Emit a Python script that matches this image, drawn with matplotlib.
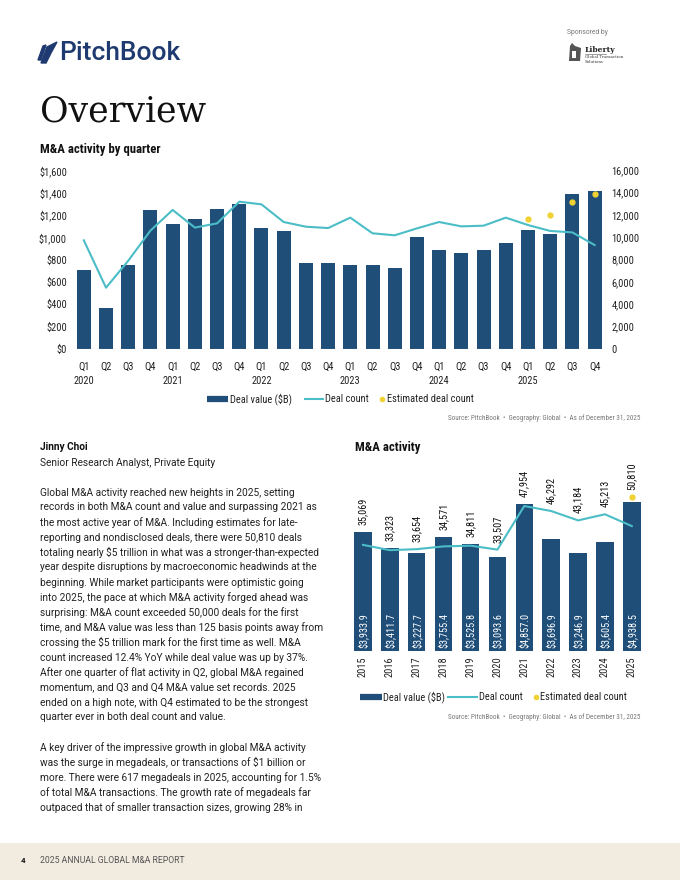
import numpy as np
import matplotlib
matplotlib.use('Agg')
import matplotlib.pyplot as plt
from matplotlib.lines import Line2D
from matplotlib.patches import Polygon, Rectangle
from matplotlib.ticker import FuncFormatter

plt.rcParams['text.parse_math'] = False

NAVY = '#1F4E79'
TEAL = '#4BBDC6'
YELLOW = '#F0D232'
COND = ['Roboto Condensed', 'Liberation Sans Narrow', 'Roboto', 'DejaVu Sans']
BODY = ['Roboto', 'DejaVu Sans']

# quarterly data
quarters = ['Q1', 'Q2', 'Q3', 'Q4'] * 6
q_years = ['2020', '2021', '2022', '2023', '2024', '2025']
q_value = [710, 367, 752, 1244, 1119, 1164, 1253, 1298, 1083, 1056, 770, 770,
           752, 752, 725, 1003, 886, 860, 886, 949, 1065, 1030, 1388, 1415]
q_count = [9730, 5490, 7900, 10600, 12450, 10870, 11250, 13190, 12950, 11370, 10950, 10830,
           11760, 10360, 10180, 10800, 11370, 10980, 11040, 11760, 11100, 10570, 10440, 9310]
q_est = [11610, 11970, 13130, 13900]   # Q1-Q4 2025

# annual data
a_years = ['2015', '2016', '2017', '2018', '2019', '2020', '2021', '2022', '2023', '2024', '2025']
a_value = [3933.9, 3411.7, 3227.7, 3755.4, 3525.8, 3093.6, 4857.0, 3696.9, 3246.9, 3605.4, 4938.5]
a_count = [35069, 33323, 33654, 34571, 34811, 33507, 47954, 46292, 43184, 45213, 41300]
a_label = [35069, 33323, 33654, 34571, 34811, 33507, 47954, 46292, 43184, 45213, 50810]
a_est = [50810]   # 2025

legend_names = ['Deal value ($B)', 'Deal count', 'Estimated deal count']
source = 'Source: PitchBook  \u2022  Geography: Global  \u2022  As of December 31, 2025'


def fx(x):
    return x / 680


def fy(y):
    return 1 - y / 880


def legend(fig, y, rect_x, line_x, dot_x, text_x):
    # hand-placed legend, positions in pixels
    fig.add_artist(Line2D([fx(rect_x[0]), fx(rect_x[1])], [fy(y), fy(y)], color=NAVY,
                          lw=4.5, solid_capstyle='butt'))
    fig.add_artist(Line2D([fx(line_x[0]), fx(line_x[1])], [fy(y), fy(y)], color=TEAL, lw=1.5))
    fig.add_artist(Line2D([fx(dot_x)], [fy(y)], color=YELLOW, marker='o', ms=3, ls='none'))
    for tx, name in zip(text_x, legend_names):
        fig.text(fx(tx), fy(y), name, fontsize=7.5, color='#222222', va='center', family=COND)


fig = plt.figure(figsize=(6.8, 8.8), dpi=100)

# ---------- header ----------
fig.patches.append(Polygon([(fx(41), fy(63)), (fx(47), fy(47)), (fx(57), fy(42)),
                            (fx(51), fy(53)), (fx(46), fy(63))],
                           closed=True, transform=fig.transFigure, color='#1F3A70'))
fig.patches.append(Polygon([(fx(38), fy(60)), (fx(43), fy(46)), (fx(46), fy(45)),
                            (fx(41), fy(60))],
                           closed=True, transform=fig.transFigure, color='#1F3A70'))
fig.text(fx(59), fy(53), 'PitchBook', fontsize=19, color='#1F3A70', fontweight='medium',
         va='center', family=BODY)

# sponsor logo
fig.text(fx(567), fy(33), 'Sponsored by', fontsize=4.9, color='#777777', va='center', family=BODY)
fig.patches.append(Polygon([(fx(569), fy(61)), (fx(570), fy(46)), (fx(572), fy(43)),
                            (fx(575), fy(46)), (fx(581), fy(48)), (fx(580), fy(61))],
                           closed=True, transform=fig.transFigure, facecolor='#555555',
                           edgecolor='none'))
fig.patches.append(Rectangle((fx(572), fy(58)), 4 / 680, 7 / 880, transform=fig.transFigure,
                             facecolor='white', edgecolor='none'))
fig.text(fx(585), fy(50), 'Liberty', fontsize=5.5, color='#222222', fontweight='bold',
         va='center', family='DejaVu Serif')
fig.add_artist(Line2D([fx(585), fx(606)], [fy(54), fy(54)], color='#555555', lw=0.4))
fig.text(fx(585), fy(57.5), 'Global Transaction', fontsize=2.8, color='#333333', va='center',
         family='DejaVu Serif')
fig.text(fx(585), fy(62), 'Solutions', fontsize=2.8, color='#333333', va='center',
         family='DejaVu Serif')

fig.text(fx(40), fy(111), 'Overview', fontsize=25, color='#111111', va='center',
         family='DejaVu Serif')

# ---------- quarterly chart ----------
fig.text(fx(40), fy(150), 'M&A activity by quarter', fontsize=9.2, fontweight='bold',
         color='#111111', va='center', family=COND)

ax = fig.add_axes([fx(76.7), fy(349), 525 / 680, 178.7 / 880])
x = np.arange(len(q_value))
ax.bar(x, q_value, width=0.63, color=NAVY, zorder=2)
ax.set_xlim(-0.32, len(q_value) - 0.68)
ax.set_ylim(0, 1600)
ax.set_yticks(range(0, 1601, 200))
ax.yaxis.set_major_formatter(FuncFormatter(lambda v, p: f'${v:,.0f}'))
ax.set_xticks(x, quarters)
ax.tick_params(length=0, labelsize=7.5, labelcolor='#222222')
ax.tick_params(axis='y', pad=7)
ax.tick_params(axis='x', pad=9)
for s in ax.spines.values():
    s.set_visible(False)
ax.axhline(0, color='#BFBFBF', lw=0.8, zorder=3)
for i, yr in enumerate(q_years):
    ax.annotate(yr, xy=(i * 4, 0), xycoords=('data', 'axes fraction'), xytext=(0, -22.8),
                textcoords='offset points', ha='center', va='center', fontsize=7.5,
                color='#222222', family=COND)

ax2 = ax.twinx()
ax2.plot(x, q_count, color=TEAL, lw=1.5, zorder=4)
ax2.plot(x[-len(q_est):], q_est, 'o', color=YELLOW, ms=3.5, zorder=5)
ax2.set_ylim(0, 16000)
ax2.set_yticks(range(0, 16001, 2000))
ax2.yaxis.set_major_formatter(FuncFormatter(lambda v, p: f'{v:,.0f}'))
ax2.tick_params(length=0, labelsize=7.5, labelcolor='#222222', pad=7)
for s in ax2.spines.values():
    s.set_visible(False)
for t in ax.get_xticklabels() + ax.get_yticklabels() + ax2.get_yticklabels():
    t.set_family(COND)

legend(fig, 399, (206.7, 228.3), (305, 323), 381.7, (230.5, 325, 387))
fig.text(fx(640), fy(418), source, fontsize=5.1, color='#777777', ha='right', va='center',
         family=COND)

# ---------- text column ----------
fig.text(fx(40), fy(447), 'Jinny Choi', fontsize=7.25, fontweight='bold', color='#111111',
         va='center', family=BODY)
fig.text(fx(40), fy(462.5), 'Senior Research Analyst, Private Equity', fontsize=7.25,
         color='#222222', va='center', family=BODY)

para1 = [
    'Global M&A activity reached new heights in 2025, setting',
    'records in both M&A count and value and surpassing 2021 as',
    'the most active year of M&A. Including estimates for late-',
    'reporting and nondisclosed deals, there were 50,810 deals',
    'totaling nearly $5 trillion in what was a stronger-than-expected',
    'year despite disruptions by macroeconomic headwinds at the',
    'beginning. While market participants were optimistic going',
    'into 2025, the pace at which M&A activity forged ahead was',
    'surprising: M&A count exceeded 50,000 deals for the first',
    'time, and M&A value was less than 125 basis points away from',
    'crossing the $5 trillion mark for the first time as well. M&A',
    'count increased 12.4% YoY while deal value was up by 37%.',
    'After one quarter of flat activity in Q2, global M&A regained',
    'momentum, and Q3 and Q4 M&A value set records. 2025',
    'ended on a high note, with Q4 estimated to be the strongest',
    'quarter ever in both deal count and value.',
]
para2 = [
    'A key driver of the impressive growth in global M&A activity',
    'was the surge in megadeals, or transactions of $1 billion or',
    'more. There were 617 megadeals in 2025, accounting for 1.5%',
    'of total M&A transactions. The growth rate of megadeals far',
    'outpaced that of smaller transaction sizes, growing 28% in',
]
for k, line in enumerate(para1):
    fig.text(fx(40), fy(492.5 + 15 * k), line, fontsize=7.25, color='#222222', va='center',
             family=BODY)
for k, line in enumerate(para2):
    fig.text(fx(40), fy(747.5 + 15 * k), line, fontsize=7.25, color='#222222', va='center',
             family=BODY)

# ---------- annual chart ----------
fig.text(fx(355), fy(448), 'M&A activity', fontsize=9.2, fontweight='bold', color='#111111',
         va='center', family=COND)

bx = fig.add_axes([fx(354.1), fy(650.7), 286.6 / 680, 175 / 880])
xa = np.arange(len(a_value))
bx.bar(xa, a_value, width=0.65, color=NAVY, zorder=2)
bx.set_xlim(-0.33, len(a_value) - 0.67)
bx.set_ylim(0, 5800)
bx.set_yticks([])
bx.set_xticks(xa, a_years, rotation=90)
bx.tick_params(length=0, labelsize=7.5, labelcolor='#222222', pad=4)
for t in bx.get_xticklabels():
    t.set_family(COND)
for s in bx.spines.values():
    s.set_visible(False)

bx2 = bx.twinx()
bx2.set_ylim(0, 58000)
bx2.plot(xa, a_count, color=TEAL, lw=1.5, zorder=4)
bx2.plot(xa[-len(a_est):], a_est, 'o', color=YELLOW, ms=3.5, zorder=5)
bx2.set_yticks([])
for s in bx2.spines.values():
    s.set_visible(False)

for i, v in enumerate(a_value):
    bx.annotate(f'${v:,.1f}', xy=(i, 0), xytext=(0, 2), textcoords='offset points',
                rotation=90, ha='center', va='bottom', fontsize=7.4, color='white',
                family=COND, zorder=6)
    top = max(v, a_count[i] / 10, a_label[i] / 10 if i == len(a_value) - 1 else 0)
    bx.annotate(f'{a_label[i]:,}', xy=(i, top), xytext=(0, 5), textcoords='offset points',
                rotation=90, ha='center', va='bottom', fontsize=7.4, color='#111111',
                family=COND, annotation_clip=False)

legend(fig, 697, (360, 381.7), (448, 477), 535.7, (383, 478.5, 540))
fig.text(fx(640), fy(717), source, fontsize=5.1, color='#777777', ha='right', va='center',
         family=COND)

# ---------- footer ----------
fig.patches.append(Rectangle((0, 0), 1, 37 / 880, transform=fig.transFigure,
                             facecolor='#F1EBE0', edgecolor='none', zorder=0))
fig.text(fx(21), fy(860), '4', fontsize=5.8, fontweight='bold', color='#111111', va='center',
         family=BODY)
fig.text(fx(40), fy(860), '2025 ANNUAL GLOBAL M&A REPORT', fontsize=6.2, color='#555555',
         va='center', family=BODY)

fig.savefig('out.png', dpi=100)
